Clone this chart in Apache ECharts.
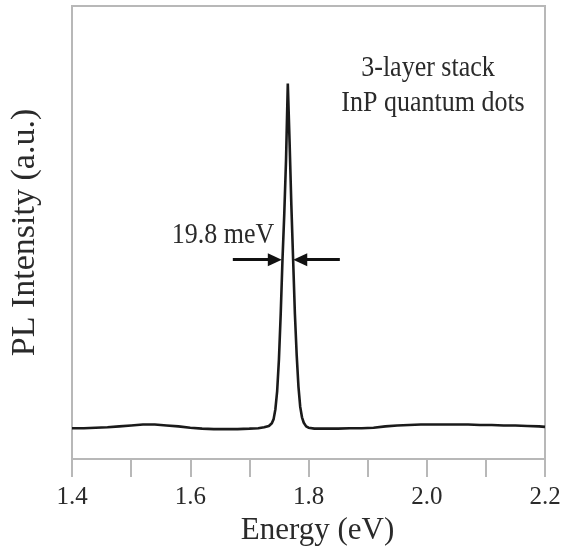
<!DOCTYPE html>
<html>
<head>
<meta charset="utf-8">
<script src="https://cdn.jsdelivr.net/npm/echarts@6/dist/echarts.min.js"></script>
<style>
html,body{margin:0;padding:0;background:#fff;}
#chart{width:564px;height:551px;}
</style>
</head>
<body>
<div id="chart"></div>
<script>
// Energy (eV) and PL intensity (a.u., 0..1 of axis height)
const energy = [
  1.400, 1.420, 1.440, 1.460, 1.480, 1.500, 1.520, 1.540, 1.560, 1.580,
  1.600, 1.620, 1.640, 1.660, 1.680, 1.700, 1.715, 1.725, 1.733, 1.738,
  1.741, 1.744, 1.747, 1.750, 1.753, 1.756, 1.759, 1.762, 1.765, 1.768,
  1.771, 1.774, 1.777, 1.780, 1.783, 1.786, 1.789, 1.792, 1.796, 1.800,
  1.810, 1.830, 1.850, 1.870, 1.890, 1.910, 1.930, 1.950, 1.970, 1.990,
  2.010, 2.030, 2.050, 2.070, 2.090, 2.110, 2.130, 2.150, 2.170, 2.190, 2.200
];
const intensity = [
  0.068, 0.068, 0.069, 0.070, 0.072, 0.074, 0.076, 0.076, 0.074, 0.072,
  0.069, 0.067, 0.066, 0.066, 0.066, 0.067, 0.068, 0.070, 0.073, 0.079,
  0.088, 0.110, 0.150, 0.220, 0.320, 0.440, 0.540, 0.660, 0.829, 0.700,
  0.560, 0.440, 0.320, 0.230, 0.160, 0.115, 0.092, 0.080, 0.072, 0.069,
  0.067, 0.067, 0.067, 0.068, 0.068, 0.069, 0.072, 0.074, 0.075, 0.076,
  0.076, 0.076, 0.076, 0.076, 0.075, 0.075, 0.074, 0.074, 0.073, 0.072, 0.071
];
const xTicks = ['1.4', '1.6', '1.8', '2.0', '2.2'];
// FWHM arrows: [tail energy, head energy] at half maximum
const arrowLeft = [1.672, 1.743];
const arrowRight = [1.853, 1.786];
const halfMax = 0.44;
const fwhmLabel = '19.8 meV';
const noteLines = ['3-layer stack', 'InP quantum dots'];

const FONT = "'Liberation Serif', 'Times New Roman', serif";
const AX = '#b8b8b8';
const TXT = '#2a2a2a';
const chart = echarts.init(document.getElementById('chart'));
chart.setOption({
  animation: false,
  backgroundColor: '#fff',
  grid: { left: 72, right: 19, top: 6, bottom: 92, show: true, borderColor: AX, borderWidth: 2 },
  xAxis: {
    type: 'value', min: 1.4, max: 2.2, interval: 0.1,
    name: 'Energy (eV)', nameLocation: 'middle', nameGap: 50,
    nameTextStyle: { fontFamily: FONT, fontSize: 31, color: TXT, padding: [0, 0, 0, 18] },
    axisLine: { show: true, lineStyle: { color: AX, width: 2 } },
    axisTick: { show: true, length: 18, lineStyle: { color: AX, width: 2 } },
    splitLine: { show: false },
    axisLabel: {
      fontFamily: FONT, fontSize: 25, color: TXT, margin: 26,
      formatter: v => { const s = v.toFixed(1); return xTicks.includes(s) ? s : ''; }
    }
  },
  yAxis: {
    type: 'value', min: 0, max: 1,
    name: 'PL Intensity (a.u.)', nameLocation: 'middle', nameGap: 30, nameRotate: 90,
    nameTextStyle: { fontFamily: FONT, fontSize: 34, color: TXT },
    axisLine: { show: true, lineStyle: { color: AX, width: 2 } },
    axisTick: { show: false }, axisLabel: { show: false }, splitLine: { show: false }
  },
  series: [{
    type: 'line',
    data: energy.map((e, i) => [e, intensity[i]]),
    showSymbol: false, symbol: 'none',
    lineStyle: { color: '#1a1a1a', width: 2.6 },
    markLine: {
      silent: true,
      symbol: ['none', 'triangle'],
      symbolSize: [13, 14],
      label: { show: false },
      lineStyle: { color: '#111', width: 3, type: 'solid' },
      data: [
        [{ coord: [arrowLeft[0], halfMax] }, { coord: [arrowLeft[1], halfMax] }],
        [{ coord: [arrowRight[0], halfMax] }, { coord: [arrowRight[1], halfMax] }]
      ]
    }
  }],
  graphic: [
    { type: 'text', x: 223, y: 235, scaleY: 1.12, style: { text: fwhmLabel, font: "26px " + FONT, fill: TXT, align: 'center', verticalAlign: 'middle' } },
    { type: 'text', x: 428, y: 68, scaleY: 1.12, style: { text: noteLines[0], font: "26px " + FONT, fill: TXT, align: 'center', verticalAlign: 'middle' } },
    { type: 'text', x: 433, y: 103, scaleY: 1.12, style: { text: noteLines[1], font: "26px " + FONT, fill: TXT, align: 'center', verticalAlign: 'middle' } }
  ]
});
</script>
</body>
</html>
